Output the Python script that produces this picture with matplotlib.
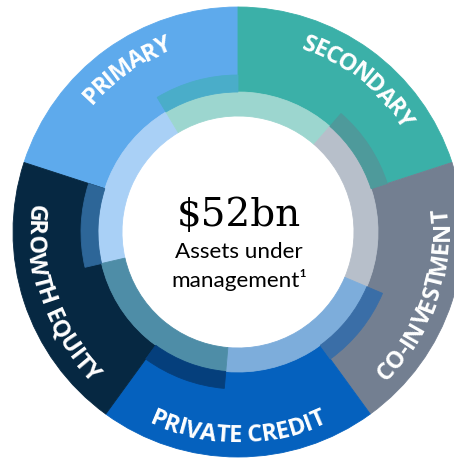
import matplotlib
matplotlib.use("Agg")
import matplotlib.pyplot as plt
import numpy as np
from matplotlib import font_manager

# segments clockwise, starting with PRIMARY (top-left)
segments = ["PRIMARY", "SECONDARY", "CO-INVESTMENT", "PRIVATE CREDIT", "GROWTH EQUITY"]
shares = [20, 20, 20, 20, 20]
tops_out = [True, True, False, False, False]  # label reading direction
label_nudge = [-1.5, -2.5, -1.5, 0, 1]            # degrees, small hand tweaks
outer_colors = ["#5EAAEC", "#3BB0A8", "#737F91", "#0561BE", "#062842"]
inner_colors = ["#A9D0F6", "#9CD6CF", "#B7BFCA", "#7DADDB", "#4E8DA7"]
band_colors = ["#2D6698", "#4AADC9", "#4E9A9B", "#3A6EA7", "#053F7C"]
headline = "$52bn"
subline1 = "Assets under"
subline2 = "management\u00b9"

W, H = 454, 462
fig = plt.figure(figsize=(W / 100, H / 100), dpi=100)
ax = fig.add_axes([0, 0, 1, 1])

cx, cy = 238, 230
R = 225        # outer edge
r_band = 157   # darker band
r_ring = 140   # light inner ring
r_hole = 116   # white centre
start = 162
shift = 31     # inner rings rotated counter-clockwise

def seal(ws):
    # paint the edges in the face colour to hide seams
    for w in ws:
        w.set_edgecolor(w.get_facecolor())
        w.set_linewidth(0.6)

wedges, _ = ax.pie(shares, colors=outer_colors, radius=R, center=(cx, cy),
                   startangle=start, counterclock=False,
                   wedgeprops=dict(width=R - r_ring))
seal(wedges)
inner, _ = ax.pie(shares, colors=inner_colors, radius=r_ring, center=(cx, cy),
                  startangle=start + shift, counterclock=False,
                  wedgeprops=dict(width=r_ring - r_hole))
seal(inner)

# darker band = leading part of each rotated inner segment
shift_share = shift / 360 * sum(shares)
band_sizes = []
band_cols = []
for s, c in zip(shares, band_colors):
    band_sizes += [shift_share, s - shift_share]
    band_cols += [c, "none"]
band, _ = ax.pie(band_sizes, colors=band_cols, radius=r_band, center=(cx, cy),
                 startangle=start + shift, counterclock=False,
                 wedgeprops=dict(width=r_band - r_ring))
seal(band)

# curved labels
label_size = 17
fp = font_manager.FontProperties(family="Open Sans", weight="bold", size=label_size)
ft = font_manager.get_font(font_manager.findfont(fp))
ft.set_size(label_size, 100)
cap = 0.714 * label_size * 100 / 72
r_txt = 202

def curved_text(txt, mid, outward):
    adv = np.array([ft.load_char(ord(ch)).linearHoriAdvance / 65536 for ch in txt])
    adv = adv * 0.95  # letters sit a touch tighter than the font's advance
    pos = np.cumsum(adv) - adv / 2 - adv.sum() / 2
    for ch, p in zip(txt, pos):
        if outward:
            ang = mid - np.degrees(p / r_txt)
            rot = ang - 90
            rb = r_txt - cap / 2
        else:
            ang = mid + np.degrees(p / r_txt)
            rot = ang + 90
            rb = r_txt + cap / 2
        a = np.radians(ang)
        ax.text(cx + rb * np.cos(a), cy + rb * np.sin(a), ch, fontproperties=fp,
                color="white", ha="center", va="baseline", rotation=rot,
                rotation_mode="anchor")

for w, name, out, nd in zip(wedges, segments, tops_out, label_nudge):
    curved_text(name, (w.theta1 + w.theta2) / 2 + nd, out)

# centre text
ax.text(239, 236, headline, family="DejaVu Serif", size=28, color="black",
        ha="center", va="baseline")
ax.text(239, 204, subline1, family="Lato", size=16.2, color="black",
        ha="center", va="baseline")
ax.text(239, 175, subline2, family="Lato", size=16.2, color="black",
        ha="center", va="baseline")

ax.set_xlim(0, W)
ax.set_ylim(0, H)
ax.set_aspect("equal")
ax.axis("off")
fig.savefig("out.png", dpi=100, facecolor="white")
